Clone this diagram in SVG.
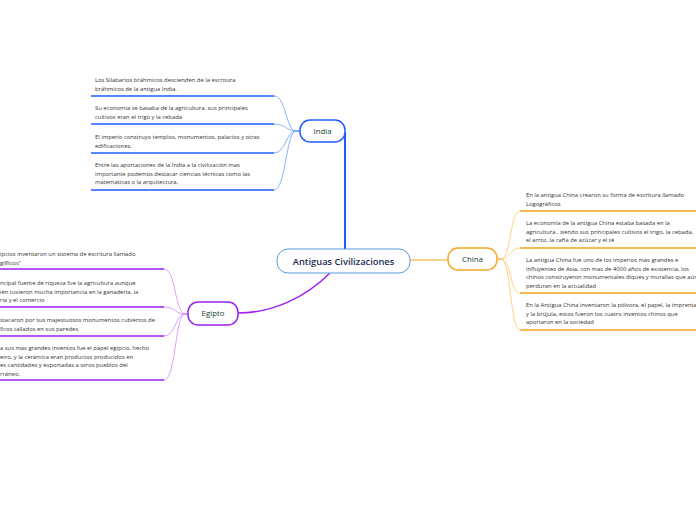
<svg xmlns="http://www.w3.org/2000/svg" width="696" height="520" viewBox="0 0 696 520">
<style>
.t{font-family:"Open Sans","Noto Sans",sans-serif;font-size:5.85px;fill:#333}
.lbl{font-family:"Open Sans","Noto Sans",sans-serif;font-size:7.8px;fill:#123d2b;text-anchor:middle}
.ctr{font-family:"Open Sans","Noto Sans",sans-serif;font-size:9.3px;font-weight:600;fill:#1b2a55;text-anchor:middle}
.cb{fill:none;stroke:#6d9eff;stroke-width:0.8}
.ub{fill:none;stroke:#1f5bff;stroke-width:1.6}
.cp{fill:none;stroke:#cf8bff;stroke-width:0.8}
.up{fill:none;stroke:#9b1ff0;stroke-width:1.6}
.co{fill:none;stroke:#ffc766;stroke-width:0.8}
.uo{fill:none;stroke:#f5a21e;stroke-width:1.6}
</style>
<rect width="696" height="520" fill="#fff"/>
<g id="connectors">
<path d="M345 132 V249" fill="none" stroke="#1f5bff" stroke-width="2"/>
<path d="M330 273 C305 298 272 313 238 313" fill="none" stroke="#a020f0" stroke-width="1.5"/>
<path d="M410 260 H448" fill="none" stroke="#f5a623" stroke-width="1"/>
<path class="cb" d="M300 131 H296 C286 131 286 96 274 96"/>
<path class="cb" d="M300 131 H296 C286 131 286 124 274 124"/>
<path class="cb" d="M300 131 H296 C286 131 286 153 274 153"/>
<path class="cb" d="M300 131 H296 C286 131 286 190 274 190"/>
<path class="cp" d="M188 314 H185 C175 314 176 269 164 269"/>
<path class="cp" d="M188 314 H185 C175 314 176 307 164 307"/>
<path class="cp" d="M188 314 H185 C175 314 176 336 164 336"/>
<path class="cp" d="M188 314 H185 C175 314 176 380 164 380"/>
<path class="co" d="M497 259 H501 C511 259 510 211 520 211"/>
<path class="co" d="M497 259 H501 C511 259 510 248 520 248"/>
<path class="co" d="M497 259 H501 C511 259 510 293 520 293"/>
<path class="co" d="M497 259 H501 C511 259 510 330 520 330"/>
</g>
<g id="central">
<rect x="277" y="249" width="133" height="24" rx="11" fill="#fff" stroke="#5b9bd8" stroke-width="1"/>
<text class="ctr" x="343.5" y="264.5">Antiguas Civilizaciones</text>
</g>
<g id="india">
<rect x="300" y="120" width="45" height="22" rx="10" fill="#fff" stroke="#1f5bff" stroke-width="1.5"/>
<text class="lbl" x="322.5" y="133.7">India</text>
</g>
<g id="egipto">
<rect x="188" y="302" width="50" height="23" rx="10" fill="#fff" stroke="#a020f0" stroke-width="1.5"/>
<text class="lbl" x="213" y="316.2">Egipto</text>
</g>
<g id="china">
<rect x="448" y="248" width="49" height="22" rx="10" fill="#fff" stroke="#f5a623" stroke-width="1.5"/>
<text class="lbl" x="472.5" y="261.7">China</text>
</g>
<g id="india-1"><path class="ub" d="M91 96 H274"/>
<text class="t" x="95" y="82">Los Silabarios bráhmicos descienden de la escritura</text>
<text class="t" x="95" y="90.5">bráhmicos de la antigua India.</text></g>
<g id="india-2"><path class="ub" d="M91 124 H274"/>
<text class="t" x="95" y="110">Su economía se basaba de la agricultura, sus principales</text>
<text class="t" x="95" y="118.5">cultivos eran el trigo y la cebada</text></g>
<g id="india-3"><path class="ub" d="M91 153 H274"/>
<text class="t" x="95" y="139">El imperio construyo templos, monumentos, palacios y otras</text>
<text class="t" x="95" y="147.5">edificaciones.</text></g>
<g id="india-4"><path class="ub" d="M91 190 H274"/>
<text class="t" x="95" y="167">Entre las aportaciones de la India a la civilización mas</text>
<text class="t" x="95" y="175.5">importante podemos destacar ciencias técnicas como las</text>
<text class="t" x="95" y="184">matemáticas o la arquitectura,</text></g>
<g id="china-1"><path class="uo" d="M520 211 H696"/>
<text class="t" x="526" y="197">En la antigua China crearon su forma de escritura llamado</text>
<text class="t" x="526" y="205.5">Logográficos</text></g>
<g id="china-2"><path class="uo" d="M520 248 H696"/>
<text class="t" x="526" y="225">La economía de la antigua China estaba basada en la</text>
<text class="t" x="526" y="233.5">agricultura , siendo sus principales cultivos el trigo, la cebada,</text>
<text class="t" x="526" y="242">el arroz, la caña de azúcar y el té</text></g>
<g id="china-3"><path class="uo" d="M520 293 H696"/>
<text class="t" x="526" y="262">La antigua China fue uno de los imperios más grandes e</text>
<text class="t" x="526" y="270.5">influyentes de Asia, con mas de 4000 años de existencia, los</text>
<text class="t" x="526" y="279">chinos construyeron monumentales diques y murallas que aún</text>
<text class="t" x="526" y="287.5">perduran en la actualidad</text></g>
<g id="china-4"><path class="uo" d="M520 330 H696"/>
<text class="t" x="526" y="307">En la Antigua China inventaron la pólvora, el papel, la imprenta</text>
<text class="t" x="526" y="315.5">y la brújula, estos fueron los cuatro inventos chinos que</text>
<text class="t" x="526" y="324">aportaron en la sociedad</text></g>
<g id="egipto-1"><path class="up" d="M0 269 H164"/>
<text class="t" x="0" y="256">ipcios inventaron un sistema de escritura llamado</text>
<text class="t" x="0" y="264.5">glíficos”</text></g>
<g id="egipto-2"><path class="up" d="M0 307 H164"/>
<text class="t" x="0" y="285">ncipal fuente de riqueza fue la agricultura aunque</text>
<text class="t" x="0" y="293.5">ién tuvieron mucha importancia en la ganadería, la</text>
<text class="t" x="0" y="302">ria y el comercio</text></g>
<g id="egipto-3"><path class="up" d="M0 336 H164"/>
<text class="t" x="0" y="322">stacaron por sus majestuosos monumentos cubiertos de</text>
<text class="t" x="0" y="330.5">ficos tallados en sus paredes</text></g>
<g id="egipto-4"><path class="up" d="M0 380 H164"/>
<text class="t" x="0" y="350">a sus mas grandes inventos fue el papel egipcio, hecho</text>
<text class="t" x="0" y="358.5">eiro, y la cerámica eran productos producidos en</text>
<text class="t" x="0" y="367">es cantidades y exportadas a otros pueblos del</text>
<text class="t" x="0" y="375.5">rráneo.</text></g>
</svg>
